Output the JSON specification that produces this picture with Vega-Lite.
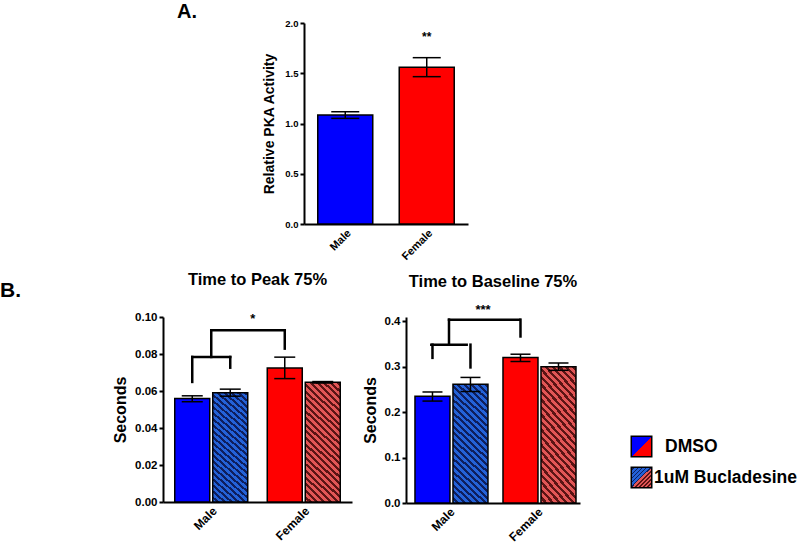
{
 "$schema": "https://vega.github.io/schema/vega-lite/v6.json",
 "padding": {"left": 0, "top": 2, "right": 0, "bottom": 0},
 "background": "white",
 "config": {
  "font": "Liberation Sans",
  "view": {"stroke": null},
  "axis": {"grid": false, "domainColor": "black", "domainWidth": 2, "tickColor": "black", "tickWidth": 2, "tickSize": 4, "labelColor": "black", "labelFontWeight": "bold", "titleColor": "black", "titleFontWeight": "bold", "labelOverlap": false, "labelFlush": false},
  "title": {"fontWeight": "bold", "color": "black"}
 },
 "spacing": 9,
 "vconcat": [
  {
   "spacing": 65,
   "hconcat": [
    {
     "width": 197, "height": 201,
     "title": {"text": "A.", "anchor": "end", "fontSize": 20, "offset": 1},
     "data": {"values": [{"d": 0}]},
     "mark": {"type": "rect", "opacity": 0},
     "encoding": {}
    },
    {
     "width": 164, "height": 201,
     "data": {"values": [
      {"sex": "Male", "mean": 1.085, "lo": 1.051, "hi": 1.117},
      {"sex": "Female", "mean": 1.559, "lo": 1.466, "hi": 1.655}
     ]},
     "encoding": {"x": {"field": "sex", "type": "nominal", "sort": ["Male", "Female"], "scale": {"paddingInner": 0.325, "paddingOuter": 0.169}, "axis": {"title": null, "labelAngle": -45, "labelFontSize": 11, "ticks": false, "labelPadding": 3}}},
     "layer": [
      {"mark": {"type": "bar", "stroke": "black", "strokeWidth": 1.5},
       "encoding": {
        "y": {"field": "mean", "type": "quantitative", "scale": {"domain": [0, 2], "nice": false}, "axis": {"title": "Relative PKA Activity", "values": [0, 0.5, 1, 1.5, 2], "format": ".1f", "labelFontSize": 9.5, "titleFontSize": 14, "titlePadding": 8, "labelOverlap": false}},
        "fill": {"field": "sex", "type": "nominal", "scale": {"domain": ["Male", "Female"], "range": ["#0000ff", "#ff0000"]}, "legend": null}
       }},
      {"mark": {"type": "rule", "color": "black", "strokeWidth": 1.5}, "encoding": {"y": {"field": "lo", "type": "quantitative"}, "y2": {"field": "hi"}}},
      {"mark": {"type": "tick", "color": "black", "size": 28, "thickness": 1.5, "opacity": 1}, "encoding": {"y": {"field": "hi", "type": "quantitative"}}},
      {"mark": {"type": "tick", "color": "black", "size": 28, "thickness": 1.5, "opacity": 1}, "encoding": {"y": {"field": "lo", "type": "quantitative"}}},
      {"data": {"values": [{"sex": "Female", "y": 1.86, "t": "**"}]},
       "mark": {"type": "text", "fontSize": 12, "fontWeight": "bold", "color": "black"},
       "encoding": {"y": {"field": "y", "type": "quantitative"}, "text": {"field": "t"}}}
     ]
    }
   ]
  },
  {
   "spacing": 10,
   "hconcat": [
    {
     "width": 102, "height": 185,
     "title": {"text": "B.", "anchor": "start", "fontSize": 21, "offset": 16},
     "data": {"values": [{"d": 0}]},
     "mark": {"type": "rect", "opacity": 0},
     "encoding": {}
    },
    {
     "width": 189, "height": 185,
     "title": {"text": "Time to Peak 75%", "fontSize": 16.5, "frame": "group", "offset": 23},
     "encoding": {"x": {"field": "sex", "type": "nominal", "sort": ["Male", "Female"], "scale": {"paddingInner": 0.211, "paddingOuter": 0.127}, "axis": {"title": null, "labelAngle": -45, "labelFontSize": 12, "ticks": false, "labelPadding": 3}}},
     "layer": [
      {
       "data": {"values": [
        {"sex": "Male", "trt": "DMSO", "mean": 0.0559, "lo": 0.0542, "hi": 0.0574},
        {"sex": "Male", "trt": "Buc", "mean": 0.0591, "lo": 0.0572, "hi": 0.061},
        {"sex": "Female", "trt": "DMSO", "mean": 0.0725, "lo": 0.0667, "hi": 0.0783},
        {"sex": "Female", "trt": "Buc", "mean": 0.0647, "lo": 0.0643, "hi": 0.0651}
       ]},
       "layer": [
        {"transform": [{"filter": "datum.trt === 'DMSO'"}],
         "mark": {"type": "bar", "stroke": "black", "strokeWidth": 1.5},
         "encoding": {
          "xOffset": {"field": "trt", "type": "nominal", "scale": {"domain": ["DMSO", "Buc"], "paddingInner": 0.079}},
          "y": {"field": "mean", "type": "quantitative", "scale": {"domain": [0, 0.1], "nice": false}, "axis": {"title": "Seconds", "values": [0, 0.02, 0.04, 0.06, 0.08, 0.1], "format": ".2f", "labelFontSize": 11.5, "titleFontSize": 16, "titlePadding": 6, "labelOverlap": false, "tickCount": 6}},
          "fill": {"field": "sex", "type": "nominal", "scale": {"domain": ["Male", "Female"], "range": ["#0000ff", "#ff0000"]}, "legend": null}
         }},
        {"transform": [{"filter": "datum.trt === 'Buc' && datum.sex === 'Male'"}],
         "mark": {"type": "bar", "stroke": "black", "strokeWidth": 1.5, "fill": {"gradient": "linear", "x1": 0, "y1": 1, "x2": 0.36, "y2": -0.28, "stops": [
    {"offset":0,"color":"#2462d8"},{"offset":0.022,"color":"#2462d8"},{"offset":0.022,"color":"#0e1f5e"},{"offset":0.04,"color":"#0e1f5e"},
    {"offset":0.04,"color":"#2462d8"},{"offset":0.062,"color":"#2462d8"},{"offset":0.062,"color":"#0e1f5e"},{"offset":0.08,"color":"#0e1f5e"},
    {"offset":0.08,"color":"#2462d8"},{"offset":0.102,"color":"#2462d8"},{"offset":0.102,"color":"#0e1f5e"},{"offset":0.12,"color":"#0e1f5e"},
    {"offset":0.12,"color":"#2462d8"},{"offset":0.142,"color":"#2462d8"},{"offset":0.142,"color":"#0e1f5e"},{"offset":0.16,"color":"#0e1f5e"},
    {"offset":0.16,"color":"#2462d8"},{"offset":0.182,"color":"#2462d8"},{"offset":0.182,"color":"#0e1f5e"},{"offset":0.2,"color":"#0e1f5e"},
    {"offset":0.2,"color":"#2462d8"},{"offset":0.222,"color":"#2462d8"},{"offset":0.222,"color":"#0e1f5e"},{"offset":0.24,"color":"#0e1f5e"},
    {"offset":0.24,"color":"#2462d8"},{"offset":0.262,"color":"#2462d8"},{"offset":0.262,"color":"#0e1f5e"},{"offset":0.28,"color":"#0e1f5e"},
    {"offset":0.28,"color":"#2462d8"},{"offset":0.302,"color":"#2462d8"},{"offset":0.302,"color":"#0e1f5e"},{"offset":0.32,"color":"#0e1f5e"},
    {"offset":0.32,"color":"#2462d8"},{"offset":0.342,"color":"#2462d8"},{"offset":0.342,"color":"#0e1f5e"},{"offset":0.36,"color":"#0e1f5e"},
    {"offset":0.36,"color":"#2462d8"},{"offset":0.382,"color":"#2462d8"},{"offset":0.382,"color":"#0e1f5e"},{"offset":0.4,"color":"#0e1f5e"},
    {"offset":0.4,"color":"#2462d8"},{"offset":0.422,"color":"#2462d8"},{"offset":0.422,"color":"#0e1f5e"},{"offset":0.44,"color":"#0e1f5e"},
    {"offset":0.44,"color":"#2462d8"},{"offset":0.462,"color":"#2462d8"},{"offset":0.462,"color":"#0e1f5e"},{"offset":0.48,"color":"#0e1f5e"},
    {"offset":0.48,"color":"#2462d8"},{"offset":0.502,"color":"#2462d8"},{"offset":0.502,"color":"#0e1f5e"},{"offset":0.52,"color":"#0e1f5e"},
    {"offset":0.52,"color":"#2462d8"},{"offset":0.542,"color":"#2462d8"},{"offset":0.542,"color":"#0e1f5e"},{"offset":0.56,"color":"#0e1f5e"},
    {"offset":0.56,"color":"#2462d8"},{"offset":0.582,"color":"#2462d8"},{"offset":0.582,"color":"#0e1f5e"},{"offset":0.6,"color":"#0e1f5e"},
    {"offset":0.6,"color":"#2462d8"},{"offset":0.622,"color":"#2462d8"},{"offset":0.622,"color":"#0e1f5e"},{"offset":0.64,"color":"#0e1f5e"},
    {"offset":0.64,"color":"#2462d8"},{"offset":0.662,"color":"#2462d8"},{"offset":0.662,"color":"#0e1f5e"},{"offset":0.68,"color":"#0e1f5e"},
    {"offset":0.68,"color":"#2462d8"},{"offset":0.702,"color":"#2462d8"},{"offset":0.702,"color":"#0e1f5e"},{"offset":0.72,"color":"#0e1f5e"},
    {"offset":0.72,"color":"#2462d8"},{"offset":0.742,"color":"#2462d8"},{"offset":0.742,"color":"#0e1f5e"},{"offset":0.76,"color":"#0e1f5e"},
    {"offset":0.76,"color":"#2462d8"},{"offset":0.782,"color":"#2462d8"},{"offset":0.782,"color":"#0e1f5e"},{"offset":0.8,"color":"#0e1f5e"},
    {"offset":0.8,"color":"#2462d8"},{"offset":0.822,"color":"#2462d8"},{"offset":0.822,"color":"#0e1f5e"},{"offset":0.84,"color":"#0e1f5e"},
    {"offset":0.84,"color":"#2462d8"},{"offset":0.862,"color":"#2462d8"},{"offset":0.862,"color":"#0e1f5e"},{"offset":0.88,"color":"#0e1f5e"},
    {"offset":0.88,"color":"#2462d8"},{"offset":0.902,"color":"#2462d8"},{"offset":0.902,"color":"#0e1f5e"},{"offset":0.92,"color":"#0e1f5e"},
    {"offset":0.92,"color":"#2462d8"},{"offset":0.942,"color":"#2462d8"},{"offset":0.942,"color":"#0e1f5e"},{"offset":0.96,"color":"#0e1f5e"},
    {"offset":0.96,"color":"#2462d8"},{"offset":0.982,"color":"#2462d8"},{"offset":0.982,"color":"#0e1f5e"},{"offset":1,"color":"#0e1f5e"}
         ]}},
         "encoding": {"xOffset": {"field": "trt", "type": "nominal"}, "y": {"field": "mean", "type": "quantitative"}}},
        {"transform": [{"filter": "datum.trt === 'Buc' && datum.sex === 'Female'"}],
         "mark": {"type": "bar", "stroke": "black", "strokeWidth": 1.5, "fill": {"gradient": "linear", "x1": 0, "y1": 1, "x2": 0.36, "y2": -0.28, "stops": [
    {"offset":0,"color":"#e25656"},{"offset":0.022,"color":"#e25656"},{"offset":0.022,"color":"#5c1414"},{"offset":0.04,"color":"#5c1414"},
    {"offset":0.04,"color":"#e25656"},{"offset":0.062,"color":"#e25656"},{"offset":0.062,"color":"#5c1414"},{"offset":0.08,"color":"#5c1414"},
    {"offset":0.08,"color":"#e25656"},{"offset":0.102,"color":"#e25656"},{"offset":0.102,"color":"#5c1414"},{"offset":0.12,"color":"#5c1414"},
    {"offset":0.12,"color":"#e25656"},{"offset":0.142,"color":"#e25656"},{"offset":0.142,"color":"#5c1414"},{"offset":0.16,"color":"#5c1414"},
    {"offset":0.16,"color":"#e25656"},{"offset":0.182,"color":"#e25656"},{"offset":0.182,"color":"#5c1414"},{"offset":0.2,"color":"#5c1414"},
    {"offset":0.2,"color":"#e25656"},{"offset":0.222,"color":"#e25656"},{"offset":0.222,"color":"#5c1414"},{"offset":0.24,"color":"#5c1414"},
    {"offset":0.24,"color":"#e25656"},{"offset":0.262,"color":"#e25656"},{"offset":0.262,"color":"#5c1414"},{"offset":0.28,"color":"#5c1414"},
    {"offset":0.28,"color":"#e25656"},{"offset":0.302,"color":"#e25656"},{"offset":0.302,"color":"#5c1414"},{"offset":0.32,"color":"#5c1414"},
    {"offset":0.32,"color":"#e25656"},{"offset":0.342,"color":"#e25656"},{"offset":0.342,"color":"#5c1414"},{"offset":0.36,"color":"#5c1414"},
    {"offset":0.36,"color":"#e25656"},{"offset":0.382,"color":"#e25656"},{"offset":0.382,"color":"#5c1414"},{"offset":0.4,"color":"#5c1414"},
    {"offset":0.4,"color":"#e25656"},{"offset":0.422,"color":"#e25656"},{"offset":0.422,"color":"#5c1414"},{"offset":0.44,"color":"#5c1414"},
    {"offset":0.44,"color":"#e25656"},{"offset":0.462,"color":"#e25656"},{"offset":0.462,"color":"#5c1414"},{"offset":0.48,"color":"#5c1414"},
    {"offset":0.48,"color":"#e25656"},{"offset":0.502,"color":"#e25656"},{"offset":0.502,"color":"#5c1414"},{"offset":0.52,"color":"#5c1414"},
    {"offset":0.52,"color":"#e25656"},{"offset":0.542,"color":"#e25656"},{"offset":0.542,"color":"#5c1414"},{"offset":0.56,"color":"#5c1414"},
    {"offset":0.56,"color":"#e25656"},{"offset":0.582,"color":"#e25656"},{"offset":0.582,"color":"#5c1414"},{"offset":0.6,"color":"#5c1414"},
    {"offset":0.6,"color":"#e25656"},{"offset":0.622,"color":"#e25656"},{"offset":0.622,"color":"#5c1414"},{"offset":0.64,"color":"#5c1414"},
    {"offset":0.64,"color":"#e25656"},{"offset":0.662,"color":"#e25656"},{"offset":0.662,"color":"#5c1414"},{"offset":0.68,"color":"#5c1414"},
    {"offset":0.68,"color":"#e25656"},{"offset":0.702,"color":"#e25656"},{"offset":0.702,"color":"#5c1414"},{"offset":0.72,"color":"#5c1414"},
    {"offset":0.72,"color":"#e25656"},{"offset":0.742,"color":"#e25656"},{"offset":0.742,"color":"#5c1414"},{"offset":0.76,"color":"#5c1414"},
    {"offset":0.76,"color":"#e25656"},{"offset":0.782,"color":"#e25656"},{"offset":0.782,"color":"#5c1414"},{"offset":0.8,"color":"#5c1414"},
    {"offset":0.8,"color":"#e25656"},{"offset":0.822,"color":"#e25656"},{"offset":0.822,"color":"#5c1414"},{"offset":0.84,"color":"#5c1414"},
    {"offset":0.84,"color":"#e25656"},{"offset":0.862,"color":"#e25656"},{"offset":0.862,"color":"#5c1414"},{"offset":0.88,"color":"#5c1414"},
    {"offset":0.88,"color":"#e25656"},{"offset":0.902,"color":"#e25656"},{"offset":0.902,"color":"#5c1414"},{"offset":0.92,"color":"#5c1414"},
    {"offset":0.92,"color":"#e25656"},{"offset":0.942,"color":"#e25656"},{"offset":0.942,"color":"#5c1414"},{"offset":0.96,"color":"#5c1414"},
    {"offset":0.96,"color":"#e25656"},{"offset":0.982,"color":"#e25656"},{"offset":0.982,"color":"#5c1414"},{"offset":1,"color":"#5c1414"}
         ]}},
         "encoding": {"xOffset": {"field": "trt", "type": "nominal"}, "y": {"field": "mean", "type": "quantitative"}}},
        {"mark": {"type": "rule", "color": "black", "strokeWidth": 1.5},
         "encoding": {"xOffset": {"field": "trt", "type": "nominal"}, "y": {"field": "lo", "type": "quantitative"}, "y2": {"field": "hi"}}},
        {"mark": {"type": "tick", "color": "black", "size": 21, "thickness": 1.5, "opacity": 1},
         "encoding": {"xOffset": {"field": "trt", "type": "nominal"}, "y": {"field": "hi", "type": "quantitative"}}},
        {"mark": {"type": "tick", "color": "black", "size": 21, "thickness": 1.5, "opacity": 1},
         "encoding": {"xOffset": {"field": "trt", "type": "nominal"}, "y": {"field": "lo", "type": "quantitative"}}}
       ]
      },
      {
       "data": {"values": [
        {"sex": "Male", "trt": "DMSO", "lo": 0.0649, "hi": 0.0784},
        {"sex": "Male", "trt": "Buc", "lo": 0.0726, "hi": 0.0784},
        {"sex": "Female", "trt": "DMSO", "lo": 0.0829, "hi": 0.0928}
       ]},
       "mark": {"type": "rule", "color": "black", "strokeWidth": 2.5, "strokeCap": "square"},
       "encoding": {"xOffset": {"field": "trt", "type": "nominal"}, "y": {"field": "lo", "type": "quantitative"}, "y2": {"field": "hi"}}
      },
      {
       "data": {"values": [{"sex": "Male", "lo": 0.0784, "hi": 0.0928}]},
       "mark": {"type": "rule", "color": "black", "strokeWidth": 2.5, "strokeCap": "square"},
       "encoding": {"y": {"field": "lo", "type": "quantitative"}, "y2": {"field": "hi"}}
      },
      {
       "data": {"values": [{"sex": "Male", "sex2": "Male", "y": 0.0784}]},
       "mark": {"type": "rule", "color": "black", "strokeWidth": 2.5, "strokeCap": "square"},
       "encoding": {"x": {"field": "sex", "type": "nominal", "bandPosition": 0.24}, "x2": {"field": "sex2", "bandPosition": 0.76}, "y": {"field": "y", "type": "quantitative"}}
      },
      {
       "data": {"values": [{"sex": "Male", "sex2": "Female", "y": 0.0928}]},
       "mark": {"type": "rule", "color": "black", "strokeWidth": 2.5, "strokeCap": "square"},
       "encoding": {"x": {"field": "sex", "type": "nominal", "bandPosition": 0.5}, "x2": {"field": "sex2", "bandPosition": 0.24}, "y": {"field": "y", "type": "quantitative"}}
      },
      {
       "data": {"values": [{"sex": "Male", "y": 0.0991, "t": "*"}]},
       "mark": {"type": "text", "fontSize": 13, "fontWeight": "bold", "color": "black"},
       "encoding": {"x": {"field": "sex", "type": "nominal", "bandPosition": 1.07}, "y": {"field": "y", "type": "quantitative"}, "text": {"field": "t"}}
      }
     ]
    },
    {
     "width": 174, "height": 186,
     "title": {"text": "Time to Baseline 75%", "fontSize": 16.5, "frame": "group", "offset": 14},
     "encoding": {"x": {"field": "sex", "type": "nominal", "sort": ["Male", "Female"], "scale": {"paddingInner": 0.227, "paddingOuter": 0.102}, "axis": {"title": null, "labelAngle": -45, "labelFontSize": 12, "ticks": false, "labelPadding": 3}}},
     "layer": [
      {
       "data": {"values": [
        {"sex": "Male", "trt": "DMSO", "mean": 0.2344, "lo": 0.224, "hi": 0.244},
        {"sex": "Male", "trt": "Buc", "mean": 0.2608, "lo": 0.245, "hi": 0.276},
        {"sex": "Female", "trt": "DMSO", "mean": 0.32, "lo": 0.311, "hi": 0.327},
        {"sex": "Female", "trt": "Buc", "mean": 0.2996, "lo": 0.2916, "hi": 0.3077}
       ]},
       "layer": [
        {"transform": [{"filter": "datum.trt === 'DMSO'"}],
         "mark": {"type": "bar", "stroke": "black", "strokeWidth": 1.5},
         "encoding": {
          "xOffset": {"field": "trt", "type": "nominal", "scale": {"domain": ["DMSO", "Buc"], "paddingInner": 0.085}},
          "y": {"field": "mean", "type": "quantitative", "scale": {"domain": [0, 0.4088], "nice": false}, "axis": {"title": "Seconds", "values": [0, 0.1, 0.2, 0.3, 0.4], "format": ".1f", "labelFontSize": 11.5, "titleFontSize": 16, "titlePadding": 6, "labelOverlap": false}},
          "fill": {"field": "sex", "type": "nominal", "scale": {"domain": ["Male", "Female"], "range": ["#0000ff", "#ff0000"]}, "legend": null}
         }},
        {"transform": [{"filter": "datum.trt === 'Buc' && datum.sex === 'Male'"}],
         "mark": {"type": "bar", "stroke": "black", "strokeWidth": 1.5, "fill": {"gradient": "linear", "x1": 0, "y1": 1, "x2": 0.36, "y2": -0.28, "stops": [
    {"offset":0,"color":"#2462d8"},{"offset":0.022,"color":"#2462d8"},{"offset":0.022,"color":"#0e1f5e"},{"offset":0.04,"color":"#0e1f5e"},
    {"offset":0.04,"color":"#2462d8"},{"offset":0.062,"color":"#2462d8"},{"offset":0.062,"color":"#0e1f5e"},{"offset":0.08,"color":"#0e1f5e"},
    {"offset":0.08,"color":"#2462d8"},{"offset":0.102,"color":"#2462d8"},{"offset":0.102,"color":"#0e1f5e"},{"offset":0.12,"color":"#0e1f5e"},
    {"offset":0.12,"color":"#2462d8"},{"offset":0.142,"color":"#2462d8"},{"offset":0.142,"color":"#0e1f5e"},{"offset":0.16,"color":"#0e1f5e"},
    {"offset":0.16,"color":"#2462d8"},{"offset":0.182,"color":"#2462d8"},{"offset":0.182,"color":"#0e1f5e"},{"offset":0.2,"color":"#0e1f5e"},
    {"offset":0.2,"color":"#2462d8"},{"offset":0.222,"color":"#2462d8"},{"offset":0.222,"color":"#0e1f5e"},{"offset":0.24,"color":"#0e1f5e"},
    {"offset":0.24,"color":"#2462d8"},{"offset":0.262,"color":"#2462d8"},{"offset":0.262,"color":"#0e1f5e"},{"offset":0.28,"color":"#0e1f5e"},
    {"offset":0.28,"color":"#2462d8"},{"offset":0.302,"color":"#2462d8"},{"offset":0.302,"color":"#0e1f5e"},{"offset":0.32,"color":"#0e1f5e"},
    {"offset":0.32,"color":"#2462d8"},{"offset":0.342,"color":"#2462d8"},{"offset":0.342,"color":"#0e1f5e"},{"offset":0.36,"color":"#0e1f5e"},
    {"offset":0.36,"color":"#2462d8"},{"offset":0.382,"color":"#2462d8"},{"offset":0.382,"color":"#0e1f5e"},{"offset":0.4,"color":"#0e1f5e"},
    {"offset":0.4,"color":"#2462d8"},{"offset":0.422,"color":"#2462d8"},{"offset":0.422,"color":"#0e1f5e"},{"offset":0.44,"color":"#0e1f5e"},
    {"offset":0.44,"color":"#2462d8"},{"offset":0.462,"color":"#2462d8"},{"offset":0.462,"color":"#0e1f5e"},{"offset":0.48,"color":"#0e1f5e"},
    {"offset":0.48,"color":"#2462d8"},{"offset":0.502,"color":"#2462d8"},{"offset":0.502,"color":"#0e1f5e"},{"offset":0.52,"color":"#0e1f5e"},
    {"offset":0.52,"color":"#2462d8"},{"offset":0.542,"color":"#2462d8"},{"offset":0.542,"color":"#0e1f5e"},{"offset":0.56,"color":"#0e1f5e"},
    {"offset":0.56,"color":"#2462d8"},{"offset":0.582,"color":"#2462d8"},{"offset":0.582,"color":"#0e1f5e"},{"offset":0.6,"color":"#0e1f5e"},
    {"offset":0.6,"color":"#2462d8"},{"offset":0.622,"color":"#2462d8"},{"offset":0.622,"color":"#0e1f5e"},{"offset":0.64,"color":"#0e1f5e"},
    {"offset":0.64,"color":"#2462d8"},{"offset":0.662,"color":"#2462d8"},{"offset":0.662,"color":"#0e1f5e"},{"offset":0.68,"color":"#0e1f5e"},
    {"offset":0.68,"color":"#2462d8"},{"offset":0.702,"color":"#2462d8"},{"offset":0.702,"color":"#0e1f5e"},{"offset":0.72,"color":"#0e1f5e"},
    {"offset":0.72,"color":"#2462d8"},{"offset":0.742,"color":"#2462d8"},{"offset":0.742,"color":"#0e1f5e"},{"offset":0.76,"color":"#0e1f5e"},
    {"offset":0.76,"color":"#2462d8"},{"offset":0.782,"color":"#2462d8"},{"offset":0.782,"color":"#0e1f5e"},{"offset":0.8,"color":"#0e1f5e"},
    {"offset":0.8,"color":"#2462d8"},{"offset":0.822,"color":"#2462d8"},{"offset":0.822,"color":"#0e1f5e"},{"offset":0.84,"color":"#0e1f5e"},
    {"offset":0.84,"color":"#2462d8"},{"offset":0.862,"color":"#2462d8"},{"offset":0.862,"color":"#0e1f5e"},{"offset":0.88,"color":"#0e1f5e"},
    {"offset":0.88,"color":"#2462d8"},{"offset":0.902,"color":"#2462d8"},{"offset":0.902,"color":"#0e1f5e"},{"offset":0.92,"color":"#0e1f5e"},
    {"offset":0.92,"color":"#2462d8"},{"offset":0.942,"color":"#2462d8"},{"offset":0.942,"color":"#0e1f5e"},{"offset":0.96,"color":"#0e1f5e"},
    {"offset":0.96,"color":"#2462d8"},{"offset":0.982,"color":"#2462d8"},{"offset":0.982,"color":"#0e1f5e"},{"offset":1,"color":"#0e1f5e"}
         ]}},
         "encoding": {"xOffset": {"field": "trt", "type": "nominal"}, "y": {"field": "mean", "type": "quantitative"}}},
        {"transform": [{"filter": "datum.trt === 'Buc' && datum.sex === 'Female'"}],
         "mark": {"type": "bar", "stroke": "black", "strokeWidth": 1.5, "fill": {"gradient": "linear", "x1": 0, "y1": 1, "x2": 0.36, "y2": -0.28, "stops": [
    {"offset":0,"color":"#e25656"},{"offset":0.022,"color":"#e25656"},{"offset":0.022,"color":"#5c1414"},{"offset":0.04,"color":"#5c1414"},
    {"offset":0.04,"color":"#e25656"},{"offset":0.062,"color":"#e25656"},{"offset":0.062,"color":"#5c1414"},{"offset":0.08,"color":"#5c1414"},
    {"offset":0.08,"color":"#e25656"},{"offset":0.102,"color":"#e25656"},{"offset":0.102,"color":"#5c1414"},{"offset":0.12,"color":"#5c1414"},
    {"offset":0.12,"color":"#e25656"},{"offset":0.142,"color":"#e25656"},{"offset":0.142,"color":"#5c1414"},{"offset":0.16,"color":"#5c1414"},
    {"offset":0.16,"color":"#e25656"},{"offset":0.182,"color":"#e25656"},{"offset":0.182,"color":"#5c1414"},{"offset":0.2,"color":"#5c1414"},
    {"offset":0.2,"color":"#e25656"},{"offset":0.222,"color":"#e25656"},{"offset":0.222,"color":"#5c1414"},{"offset":0.24,"color":"#5c1414"},
    {"offset":0.24,"color":"#e25656"},{"offset":0.262,"color":"#e25656"},{"offset":0.262,"color":"#5c1414"},{"offset":0.28,"color":"#5c1414"},
    {"offset":0.28,"color":"#e25656"},{"offset":0.302,"color":"#e25656"},{"offset":0.302,"color":"#5c1414"},{"offset":0.32,"color":"#5c1414"},
    {"offset":0.32,"color":"#e25656"},{"offset":0.342,"color":"#e25656"},{"offset":0.342,"color":"#5c1414"},{"offset":0.36,"color":"#5c1414"},
    {"offset":0.36,"color":"#e25656"},{"offset":0.382,"color":"#e25656"},{"offset":0.382,"color":"#5c1414"},{"offset":0.4,"color":"#5c1414"},
    {"offset":0.4,"color":"#e25656"},{"offset":0.422,"color":"#e25656"},{"offset":0.422,"color":"#5c1414"},{"offset":0.44,"color":"#5c1414"},
    {"offset":0.44,"color":"#e25656"},{"offset":0.462,"color":"#e25656"},{"offset":0.462,"color":"#5c1414"},{"offset":0.48,"color":"#5c1414"},
    {"offset":0.48,"color":"#e25656"},{"offset":0.502,"color":"#e25656"},{"offset":0.502,"color":"#5c1414"},{"offset":0.52,"color":"#5c1414"},
    {"offset":0.52,"color":"#e25656"},{"offset":0.542,"color":"#e25656"},{"offset":0.542,"color":"#5c1414"},{"offset":0.56,"color":"#5c1414"},
    {"offset":0.56,"color":"#e25656"},{"offset":0.582,"color":"#e25656"},{"offset":0.582,"color":"#5c1414"},{"offset":0.6,"color":"#5c1414"},
    {"offset":0.6,"color":"#e25656"},{"offset":0.622,"color":"#e25656"},{"offset":0.622,"color":"#5c1414"},{"offset":0.64,"color":"#5c1414"},
    {"offset":0.64,"color":"#e25656"},{"offset":0.662,"color":"#e25656"},{"offset":0.662,"color":"#5c1414"},{"offset":0.68,"color":"#5c1414"},
    {"offset":0.68,"color":"#e25656"},{"offset":0.702,"color":"#e25656"},{"offset":0.702,"color":"#5c1414"},{"offset":0.72,"color":"#5c1414"},
    {"offset":0.72,"color":"#e25656"},{"offset":0.742,"color":"#e25656"},{"offset":0.742,"color":"#5c1414"},{"offset":0.76,"color":"#5c1414"},
    {"offset":0.76,"color":"#e25656"},{"offset":0.782,"color":"#e25656"},{"offset":0.782,"color":"#5c1414"},{"offset":0.8,"color":"#5c1414"},
    {"offset":0.8,"color":"#e25656"},{"offset":0.822,"color":"#e25656"},{"offset":0.822,"color":"#5c1414"},{"offset":0.84,"color":"#5c1414"},
    {"offset":0.84,"color":"#e25656"},{"offset":0.862,"color":"#e25656"},{"offset":0.862,"color":"#5c1414"},{"offset":0.88,"color":"#5c1414"},
    {"offset":0.88,"color":"#e25656"},{"offset":0.902,"color":"#e25656"},{"offset":0.902,"color":"#5c1414"},{"offset":0.92,"color":"#5c1414"},
    {"offset":0.92,"color":"#e25656"},{"offset":0.942,"color":"#e25656"},{"offset":0.942,"color":"#5c1414"},{"offset":0.96,"color":"#5c1414"},
    {"offset":0.96,"color":"#e25656"},{"offset":0.982,"color":"#e25656"},{"offset":0.982,"color":"#5c1414"},{"offset":1,"color":"#5c1414"}
         ]}},
         "encoding": {"xOffset": {"field": "trt", "type": "nominal"}, "y": {"field": "mean", "type": "quantitative"}}},
        {"mark": {"type": "rule", "color": "black", "strokeWidth": 1.5},
         "encoding": {"xOffset": {"field": "trt", "type": "nominal"}, "y": {"field": "lo", "type": "quantitative"}, "y2": {"field": "hi"}}},
        {"mark": {"type": "tick", "color": "black", "size": 20, "thickness": 1.5, "opacity": 1},
         "encoding": {"xOffset": {"field": "trt", "type": "nominal"}, "y": {"field": "hi", "type": "quantitative"}}},
        {"mark": {"type": "tick", "color": "black", "size": 20, "thickness": 1.5, "opacity": 1},
         "encoding": {"xOffset": {"field": "trt", "type": "nominal"}, "y": {"field": "lo", "type": "quantitative"}}}
       ]
      },
      {
       "data": {"values": [
        {"sex": "Male", "trt": "DMSO", "lo": 0.319, "hi": 0.348},
        {"sex": "Male", "trt": "Buc", "lo": 0.298, "hi": 0.348},
        {"sex": "Female", "trt": "DMSO", "lo": 0.366, "hi": 0.403}
       ]},
       "mark": {"type": "rule", "color": "black", "strokeWidth": 2.5, "strokeCap": "square"},
       "encoding": {"xOffset": {"field": "trt", "type": "nominal"}, "y": {"field": "lo", "type": "quantitative"}, "y2": {"field": "hi"}}
      },
      {
       "data": {"values": [{"sex": "Male", "lo": 0.348, "hi": 0.403}]},
       "mark": {"type": "rule", "color": "black", "strokeWidth": 2.5, "strokeCap": "square"},
       "encoding": {"y": {"field": "lo", "type": "quantitative"}, "y2": {"field": "hi"}}
      },
      {
       "data": {"values": [{"sex": "Male", "sex2": "Male", "y": 0.348}]},
       "mark": {"type": "rule", "color": "black", "strokeWidth": 2.5, "strokeCap": "square"},
       "encoding": {"x": {"field": "sex", "type": "nominal", "bandPosition": 0.24}, "x2": {"field": "sex2", "bandPosition": 0.76}, "y": {"field": "y", "type": "quantitative"}}
      },
      {
       "data": {"values": [{"sex": "Male", "sex2": "Female", "y": 0.403}]},
       "mark": {"type": "rule", "color": "black", "strokeWidth": 2.5, "strokeCap": "square"},
       "encoding": {"x": {"field": "sex", "type": "nominal", "bandPosition": 0.5}, "x2": {"field": "sex2", "bandPosition": 0.24}, "y": {"field": "y", "type": "quantitative"}}
      },
      {
       "data": {"values": [{"sex": "Male", "y": 0.424, "t": "***"}]},
       "mark": {"type": "text", "fontSize": 13, "fontWeight": "bold", "color": "black"},
       "encoding": {"x": {"field": "sex", "type": "nominal", "bandPosition": 1}, "y": {"field": "y", "type": "quantitative"}, "text": {"field": "t"}}
      }
     ]
    },
    {
     "width": 28, "height": 185,
     "data": {"values": [{"d": 0}]},
     "mark": {"type": "rect", "opacity": 0},
     "encoding": {}
    },
    {
     "spacing": 0,
     "vconcat": [
      {
       "width": 21, "height": 114,
       "data": {"values": [{"d": 0}]},
       "mark": {"type": "rect", "opacity": 0},
       "encoding": {}
      },
      {
       "width": 21, "height": 62,
       "data": {"values": [{"k": "DMSO"}, {"k": "1uM Bucladesine"}]},
       "encoding": {"y": {"field": "k", "type": "nominal", "sort": ["DMSO", "1uM Bucladesine"], "scale": {"type": "point", "padding": 0.5}, "axis": null}},
       "layer": [
        {"transform": [{"filter": "datum.k === 'DMSO'"}], "mark": {"type": "square", "size": 420, "stroke": "black", "strokeWidth": 1.5, "opacity": 1, "fill": {"gradient": "linear", "x1": 0, "y1": 0, "x2": 1, "y2": 1, "stops": [
          {"offset":0,"color":"#0000ff"},{"offset":0.5,"color":"#0000ff"},{"offset":0.5,"color":"#ff0000"},{"offset":1,"color":"#ff0000"}
         ]}}},
        {"transform": [{"filter": "datum.k !== 'DMSO'"}], "mark": {"type": "square", "size": 420, "stroke": "black", "strokeWidth": 1.5, "opacity": 1, "fill": {"gradient": "linear", "x1": 0, "y1": 0, "x2": 1, "y2": 1, "stops": [
          {"offset":0,"color":"#2462d8"},{"offset":0.06,"color":"#2462d8"},{"offset":0.06,"color":"#0e1f5e"},{"offset":0.1,"color":"#0e1f5e"},
          {"offset":0.1,"color":"#2462d8"},{"offset":0.16,"color":"#2462d8"},{"offset":0.16,"color":"#0e1f5e"},{"offset":0.2,"color":"#0e1f5e"},
          {"offset":0.2,"color":"#2462d8"},{"offset":0.26,"color":"#2462d8"},{"offset":0.26,"color":"#0e1f5e"},{"offset":0.3,"color":"#0e1f5e"},
          {"offset":0.3,"color":"#2462d8"},{"offset":0.36,"color":"#2462d8"},{"offset":0.36,"color":"#0e1f5e"},{"offset":0.4,"color":"#0e1f5e"},
          {"offset":0.4,"color":"#2462d8"},{"offset":0.46,"color":"#2462d8"},{"offset":0.46,"color":"#0e1f5e"},{"offset":0.5,"color":"#0e1f5e"},
          {"offset":0.5,"color":"#e25656"},{"offset":0.56,"color":"#e25656"},{"offset":0.56,"color":"#5c1414"},{"offset":0.6,"color":"#5c1414"},
          {"offset":0.6,"color":"#e25656"},{"offset":0.66,"color":"#e25656"},{"offset":0.66,"color":"#5c1414"},{"offset":0.7,"color":"#5c1414"},
          {"offset":0.7,"color":"#e25656"},{"offset":0.76,"color":"#e25656"},{"offset":0.76,"color":"#5c1414"},{"offset":0.8,"color":"#5c1414"},
          {"offset":0.8,"color":"#e25656"},{"offset":0.86,"color":"#e25656"},{"offset":0.86,"color":"#5c1414"},{"offset":0.9,"color":"#5c1414"},
          {"offset":0.9,"color":"#e25656"},{"offset":0.96,"color":"#e25656"},{"offset":0.96,"color":"#5c1414"},{"offset":1,"color":"#5c1414"}
         ]}}},
        {"transform": [{"filter": "datum.k === 'DMSO'"}], "mark": {"type": "text", "align": "left", "dx": 23.5, "fontSize": 17.5, "fontWeight": "bold", "color": "black"}, "encoding": {"text": {"field": "k"}}},
        {"transform": [{"filter": "datum.k !== 'DMSO'"}], "mark": {"type": "text", "align": "left", "dx": 12.5, "fontSize": 17.5, "fontWeight": "bold", "color": "black"}, "encoding": {"text": {"field": "k"}}}
       ]
      }
     ]
    }
   ]
  }
 ]
}
